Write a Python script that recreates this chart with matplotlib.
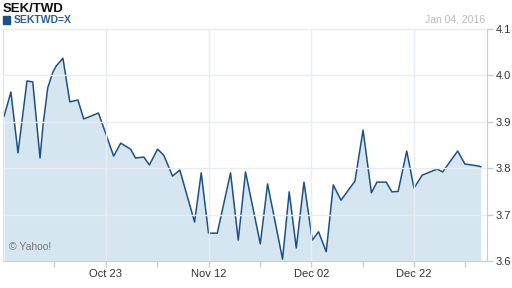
import matplotlib.pyplot as plt
import matplotlib.dates as mdates
import pandas as pd

plt.rcParams["font.family"] = ["Liberation Sans", "DejaVu Sans"]

# SEK/TWD quote, Oct 2015 - Jan 2016
times = ["2015-10-03 05:00", "2015-10-04 13:00", "2015-10-05 22:00", "2015-10-07 16:00",
         "2015-10-08 19:00", "2015-10-10 05:00", "2015-10-10 19:00", "2015-10-11 17:00",
         "2015-10-12 17:00", "2015-10-13 08:00", "2015-10-14 16:00",
         "2015-10-16 00:00", "2015-10-17 14:00", "2015-10-18 17:00", "2015-10-21 14:00",
         "2015-10-24 13:00", "2015-10-25 22:00", "2015-10-27 20:00", "2015-10-28 19:00",
         "2015-10-30 10:00", "2015-10-31 12:00", "2015-11-02 02:00", "2015-11-03 07:00",
         "2015-11-05 00:00", "2015-11-06 10:00", "2015-11-09 07:00", "2015-11-10 14:00",
         "2015-11-12 00:00", "2015-11-13 17:00", "2015-11-16 07:00", "2015-11-17 19:00",
         "2015-11-19 05:00", "2015-11-22 02:00", "2015-11-23 12:00", "2015-11-26 10:00",
         "2015-11-27 17:00", "2015-11-29 02:00", "2015-11-30 14:00", "2015-12-02 05:00",
         "2015-12-03 10:00", "2015-12-04 22:00", "2015-12-06 07:00", "2015-12-07 19:00",
         "2015-12-10 12:00", "2015-12-12 02:00", "2015-12-13 17:00", "2015-12-14 19:00",
         "2015-12-16 14:00", "2015-12-17 17:00", "2015-12-18 22:00", "2015-12-20 14:00",
         "2015-12-22 00:00", "2015-12-23 14:00", "2015-12-26 12:00", "2015-12-27 14:00",
         "2015-12-30 12:00", "2015-12-31 22:00", "2016-01-03 10:00", "2016-01-04 00:00"]
rates = [3.912, 3.964, 3.833, 3.988, 3.986, 3.822, 3.893, 3.973,
         4.007, 4.020, 4.037,
         3.943, 3.947, 3.906, 3.919, 3.826, 3.854, 3.841, 3.822,
         3.824, 3.807, 3.841, 3.828, 3.783, 3.796, 3.684, 3.790,
         3.660, 3.660, 3.790, 3.645, 3.792, 3.637, 3.766, 3.604,
         3.749, 3.628, 3.770, 3.645, 3.663, 3.620, 3.764, 3.731,
         3.772, 3.882, 3.747, 3.770, 3.770, 3.749, 3.750, 3.837,
         3.757, 3.785, 3.798, 3.792, 3.837, 3.809, 3.805, 3.803]

x_ticks = ["2015-10-23", "2015-11-12", "2015-12-02", "2015-12-22"]
x_minor = ["2015-10-13", "2015-11-02", "2015-11-22", "2015-12-12", "2016-01-01"]
y_ticks = [3.6, 3.7, 3.8, 3.9, 4.0, 4.1]

t = pd.to_datetime(times)

fig = plt.figure(figsize=(5.12, 2.88), dpi=100)
ax = fig.add_axes([3 / 512, 27 / 288, 484 / 512, 232 / 288])

ax.fill_between(t, rates, 3.6, color="#d6e6f1", lw=0)
ax.plot(t, rates, color="#1b5189", lw=1.1)

ax.set_xlim(pd.Timestamp("2015-10-03 00:00"), pd.Timestamp("2016-01-05 05:00"))
ax.set_ylim(3.6, 4.1)

ax.set_xticks(pd.to_datetime(x_ticks))
ax.set_xticks(pd.to_datetime(x_minor), minor=True)
ax.xaxis.set_major_formatter(mdates.DateFormatter("%b %d"))
ax.set_yticks(y_ticks)
ax.set_yticklabels(["%.1f" % v for v in y_ticks])
ax.yaxis.tick_right()

ax.tick_params(axis="both", which="both", colors="#cccccc", labelcolor="#333333",
               labelsize=8, length=4, width=1)
ax.tick_params(axis="y", pad=2)
ax.tick_params(axis="x", pad=2)
ax.grid(True, which="major", color="#e8edf3", lw=1)
ax.set_axisbelow(False)
for s in ax.spines.values():
    s.set_color("#e0e0e0")
ax.spines["right"].set_color("#cccccc")
ax.spines["bottom"].set_color("#cccccc")

fig.text(3 / 512, 1 - 9 / 288, "SEK/TWD", fontsize=9.5, fontweight="bold",
         color="#111111", va="center")
fig.patches.append(plt.Rectangle((3 / 512, 1 - 24 / 288), 7 / 512, 8 / 288,
                                 transform=fig.transFigure, color="#1b5189"))
fig.text(14 / 512, 1 - 20 / 288, "SEKTWD=X", fontsize=7.5, fontweight="bold",
         color="#2a5d95", va="center")
fig.text(485 / 512, 1 - 20 / 288, "Jan 04, 2016", fontsize=7.5, color="#bbbbbb",
         va="center", ha="right")
ax.text(0.012, 0.06, "© Yahoo!", transform=ax.transAxes, fontsize=7.5,
        color="#777777", va="center")

fig.savefig("out.png", dpi=100)
